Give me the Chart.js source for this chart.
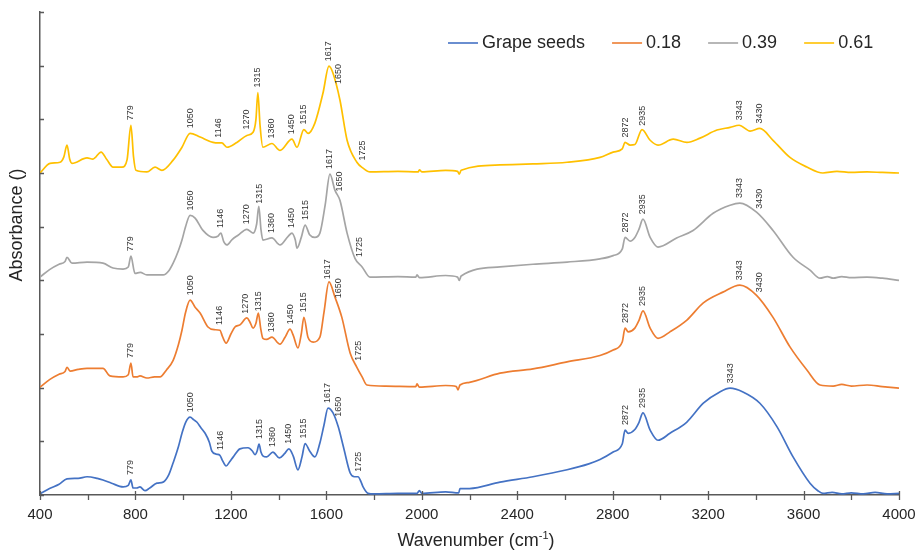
<!DOCTYPE html>
<html>
<head>
<meta charset="utf-8">
<title>FTIR spectra</title>
<script src="https://cdn.jsdelivr.net/npm/chart.js@4.4.1/dist/chart.umd.min.js"></script>
<style>
  html, body { margin: 0; padding: 0; background: #fff; }
  #wrap { width: 919px; height: 550px; position: relative; }
</style>
</head>
<body>
<div id="wrap"><canvas id="ftir"></canvas></div>
<script>
// series names
const seriesNames = ['Grape seeds', '0.18', '0.39', '0.61'];

// Grape seeds
const seedsX = [400, 440, 480, 513, 560, 597, 640, 664, 700, 748, 770, 781, 790, 805, 819, 840, 860, 890, 916, 940, 958, 980, 995, 1010, 1029, 1045, 1057, 1075, 1092, 1110, 1120, 1140, 1154, 1165, 1180, 1195, 1210, 1238, 1272, 1290, 1301, 1310, 1318, 1326, 1334, 1350, 1376, 1403, 1425, 1443, 1461, 1481, 1498, 1511, 1530, 1552, 1573, 1590, 1607, 1628, 1650, 1672, 1700, 1718, 1733, 1745, 1754, 1775, 1800, 1900, 1980, 1990, 2000, 2100, 2155, 2160, 2200, 2328, 2466, 2609, 2700, 2747, 2802, 2840, 2852, 2865, 2893, 2910, 2927, 2957, 2990, 3040, 3111, 3180, 3249, 3292, 3346, 3417, 3489, 3556, 3627, 3660, 3681, 3720, 3760, 3800, 3850, 3900, 3950, 4000];
const seedsY = [0.02, 0.12, 0.2, 0.30, 0.31, 0.34, 0.31, 0.28, 0.22, 0.15, 0.18, 0.28, 0.13, 0.13, 0.15, 0.08, 0.13, 0.22, 0.24, 0.38, 0.6, 0.9, 1.15, 1.35, 1.45, 1.40, 1.36, 1.25, 1.15, 0.98, 0.82, 0.76, 0.74, 0.64, 0.54, 0.62, 0.71, 0.86, 0.88, 0.82, 0.75, 0.82, 0.95, 0.80, 0.73, 0.71, 0.80, 0.69, 0.77, 0.86, 0.73, 0.47, 0.71, 0.96, 0.82, 0.71, 0.97, 1.3, 1.62, 1.53, 1.27, 0.89, 0.41, 0.34, 0.34, 0.25, 0.15, 0.03, 0.02, 0.03, 0.03, 0.08, 0.03, 0.06, 0.04, 0.12, 0.12, 0.24, 0.34, 0.47, 0.58, 0.66, 0.80, 0.95, 1.21, 1.15, 1.22, 1.35, 1.53, 1.21, 1.02, 1.15, 1.36, 1.71, 1.92, 1.99, 1.92, 1.71, 1.27, 0.71, 0.22, 0.08, 0.03, 0.05, 0.02, 0.04, 0.02, 0.05, 0.02, 0.03];

// 0.18
const s18X = [400, 440, 480, 505, 513, 526, 560, 597, 640, 664, 693, 748, 770, 781, 790, 805, 819, 848, 880, 903, 930, 958, 980, 995, 1010, 1029, 1050, 1071, 1104, 1130, 1154, 1165, 1180, 1200, 1217, 1238, 1267, 1280, 1293, 1305, 1315, 1325, 1334, 1350, 1372, 1406, 1427, 1448, 1461, 1481, 1495, 1506, 1523, 1545, 1573, 1590, 1611, 1636, 1665, 1700, 1728, 1750, 1770, 1850, 1975, 1980, 1990, 2100, 2145, 2152, 2160, 2200, 2328, 2466, 2609, 2747, 2802, 2840, 2852, 2865, 2893, 2910, 2927, 2957, 2990, 3040, 3111, 3180, 3262, 3333, 3403, 3472, 3543, 3614, 3669, 3724, 3760, 3800, 3866, 3930, 4000];
const s18Y = [2.01, 2.15, 2.25, 2.30, 2.38, 2.31, 2.34, 2.36, 2.36, 2.36, 2.22, 2.20, 2.24, 2.46, 2.20, 2.20, 2.22, 2.18, 2.20, 2.20, 2.33, 2.51, 2.8, 3.07, 3.40, 3.63, 3.50, 3.39, 3.13, 3.08, 3.07, 2.95, 2.83, 3.0, 3.13, 3.17, 3.30, 3.22, 3.11, 3.20, 3.39, 3.1, 2.92, 2.90, 2.94, 2.81, 2.94, 3.09, 2.98, 2.74, 3.0, 3.31, 2.94, 2.85, 2.94, 3.4, 3.97, 3.69, 3.31, 2.64, 2.38, 2.20, 2.05, 2.03, 2.02, 2.07, 2.01, 2.04, 2.02, 1.96, 2.05, 2.10, 2.27, 2.35, 2.48, 2.60, 2.70, 2.85, 3.11, 3.04, 3.11, 3.25, 3.43, 3.11, 2.92, 3.04, 3.26, 3.58, 3.78, 3.91, 3.72, 3.31, 2.76, 2.33, 2.05, 2.03, 2.06, 2.03, 2.05, 2.02, 1.99];

// 0.39
const s39X = [400, 440, 480, 505, 513, 534, 597, 664, 706, 748, 770, 781, 798, 820, 848, 916, 940, 958, 980, 995, 1010, 1029, 1050, 1083, 1125, 1145, 1158, 1170, 1183, 1205, 1230, 1267, 1293, 1308, 1317, 1326, 1334, 1372, 1406, 1440, 1456, 1470, 1477, 1495, 1511, 1530, 1552, 1573, 1595, 1615, 1636, 1657, 1687, 1720, 1750, 1783, 1900, 1975, 1980, 1990, 2100, 2150, 2157, 2165, 2328, 2466, 2609, 2747, 2802, 2840, 2852, 2873, 2893, 2910, 2927, 2957, 2990, 3068, 3137, 3221, 3292, 3333, 3403, 3472, 3556, 3627, 3669, 3700, 3724, 3760, 3800, 3866, 3930, 4000];
const s39Y = [4.06, 4.2, 4.3, 4.35, 4.43, 4.32, 4.34, 4.32, 4.23, 4.21, 4.25, 4.45, 4.13, 4.15, 4.10, 4.10, 4.18, 4.32, 4.55, 4.75, 5.0, 5.21, 5.16, 4.93, 4.80, 4.82, 4.88, 4.72, 4.66, 4.76, 4.84, 4.95, 4.88, 5.05, 5.38, 4.95, 4.75, 4.79, 4.66, 4.82, 4.88, 4.75, 4.60, 4.8, 5.03, 4.85, 4.80, 4.88, 5.4, 5.98, 5.68, 5.49, 4.88, 4.41, 4.25, 4.06, 4.07, 4.06, 4.1, 4.05, 4.09, 4.06, 4.0, 4.08, 4.25, 4.30, 4.34, 4.40, 4.46, 4.58, 4.80, 4.73, 4.80, 4.95, 5.14, 4.80, 4.62, 4.79, 4.93, 5.25, 5.40, 5.44, 5.27, 4.93, 4.43, 4.19, 4.04, 4.07, 4.04, 4.07, 4.05, 4.06, 4.04, 4.0];

// 0.61
const s61X = [400, 442, 484, 500, 513, 525, 534, 597, 622, 656, 680, 706, 744, 765, 781, 792, 802, 848, 882, 911, 958, 995, 1029, 1071, 1125, 1150, 1162, 1183, 1225, 1267, 1293, 1305, 1313, 1322, 1334, 1372, 1406, 1456, 1477, 1506, 1524, 1552, 1586, 1611, 1628, 1657, 1687, 1728, 1754, 1783, 1900, 1985, 1990, 2000, 2100, 2150, 2157, 2165, 2328, 2466, 2609, 2747, 2802, 2840, 2852, 2873, 2893, 2923, 2957, 2990, 3054, 3111, 3166, 3237, 3292, 3330, 3376, 3417, 3472, 3543, 3614, 3681, 3740, 3800, 3866, 3930, 4000];
const s61Y = [6.0, 6.18, 6.20, 6.3, 6.52, 6.25, 6.18, 6.28, 6.26, 6.39, 6.25, 6.11, 6.11, 6.25, 6.89, 6.3, 6.05, 6.02, 6.11, 6.05, 6.24, 6.48, 6.74, 6.67, 6.57, 6.56, 6.56, 6.48, 6.57, 6.70, 6.76, 7.0, 7.50, 6.9, 6.48, 6.55, 6.42, 6.63, 6.48, 6.81, 6.74, 6.93, 7.49, 7.99, 7.86, 7.36, 6.61, 6.20, 6.09, 6.02, 6.03, 6.02, 6.06, 6.02, 6.05, 6.03, 5.98, 6.05, 6.15, 6.17, 6.20, 6.29, 6.39, 6.45, 6.57, 6.52, 6.53, 6.81, 6.61, 6.52, 6.63, 6.57, 6.65, 6.80, 6.85, 6.89, 6.78, 6.83, 6.61, 6.29, 6.11, 6.0, 6.03, 6.01, 6.02, 6.01, 6.0];

// peak labels: text and where they sit along the wavenumber axis
const seedsPeaks = ['779', '1050', '1146', '1315', '1360', '1450', '1515', '1617', '1650', '1725', '2872', '2935', '3343'];
const seedsPeakAt = [781, 1029, 1158, 1318, 1376, 1443, 1503, 1607, 1650, 1733, 2852, 2927, 3292];
const s18Peaks = ['779', '1050', '1146', '1270', '1315', '1360', '1450', '1515', '1617', '1650', '1725', '2872', '2935', '3343', '3430'];
const s18PeakAt = [781, 1029, 1154, 1263, 1317, 1372, 1448, 1506, 1607, 1653, 1733, 2852, 2927, 3333, 3417];
const s39Peaks = ['779', '1050', '1146', '1270', '1315', '1360', '1450', '1515', '1617', '1650', '1725', '2872', '2935', '3343', '3430'];
const s39PeakAt = [781, 1029, 1158, 1267, 1318, 1372, 1456, 1511, 1615, 1657, 1741, 2852, 2927, 3333, 3417];
const s61Peaks = ['779', '1050', '1146', '1270', '1315', '1360', '1450', '1515', '1617', '1650', '1725', '2872', '2935', '3343', '3430'];
const s61PeakAt = [781, 1029, 1147, 1267, 1313, 1372, 1456, 1506, 1611, 1653, 1750, 2852, 2927, 3330, 3417];

// axis ticks
const xTicks = [400, 800, 1200, 1600, 2000, 2400, 2800, 3200, 3600, 4000];

const colors = ['#4472C4', '#ED7D31', '#A5A5A5', '#FFC000'];
const axisColor = '#595959';
const textColor = '#262626';
const FONT = 'Arial, "Liberation Sans", sans-serif';

function toPoints(xs, ys) {
    return xs.map((x, i) => ({ x: x, y: ys[i] }));
}

// linear lookup on a series, used to seat the peak labels on the curve
function valueAt(xs, ys, w) {
    if (w <= xs[0]) return ys[0];
    for (let i = 1; i < xs.length; i++) {
        if (w <= xs[i]) {
            const t = (w - xs[i - 1]) / (xs[i] - xs[i - 1]);
            return ys[i - 1] + t * (ys[i] - ys[i - 1]);
        }
    }
    return ys[ys.length - 1];
}

const allX = [seedsX, s18X, s39X, s61X];
const allY = [seedsY, s18Y, s39Y, s61Y];
const allPeaks = [seedsPeaks, s18Peaks, s39Peaks, s61Peaks];
const allPeakAt = [seedsPeakAt, s18PeakAt, s39PeakAt, s61PeakAt];

const decorations = {
    id: 'decorations',
    afterDraw(chart) {
        const ctx = chart.ctx;
        const xs = chart.scales.x, ys = chart.scales.y;
        const area = chart.chartArea;

        ctx.save();
        ctx.strokeStyle = axisColor;
        ctx.lineWidth = 1.3;
        // x tick marks: every 200, labelled ones cross the axis
        ctx.beginPath();
        for (let w = 400; w <= 4000; w += 200) {
            const px = Math.round(xs.getPixelForValue(w)) + 0.5;
            const major = xTicks.includes(w);
            ctx.moveTo(px, area.bottom - (major ? 4 : 0));
            ctx.lineTo(px, area.bottom + 5);
        }
        // y tick marks point into the plot
        for (let v = 0; v <= 9; v++) {
            const py = Math.round(ys.getPixelForValue(v)) + 0.5;
            ctx.moveTo(area.left, py);
            ctx.lineTo(area.left + 4, py);
        }
        ctx.stroke();

        // peak labels
        ctx.fillStyle = '#333';
        ctx.font = '9px ' + FONT;
        ctx.textAlign = 'left';
        ctx.textBaseline = 'middle';
        allPeaks.forEach((labels, s) => {
            labels.forEach((txt, k) => {
                const w = allPeakAt[s][k];
                const top = Math.max(
                    valueAt(allX[s], allY[s], w - 8),
                    valueAt(allX[s], allY[s], w),
                    valueAt(allX[s], allY[s], w + 8));
                const px = xs.getPixelForValue(w);
                const py = ys.getPixelForValue(top) - 5;
                ctx.save();
                ctx.translate(px, py);
                ctx.rotate(-Math.PI / 2);
                ctx.fillText(txt, 0, 0);
                ctx.restore();
            });
        });

        // legend
        ctx.font = '18px ' + FONT;
        ctx.textBaseline = 'middle';
        let lx = 448;
        const ly = 43;
        seriesNames.forEach((name, i) => {
            ctx.strokeStyle = colors[i];
            ctx.lineWidth = 1.6;
            ctx.beginPath();
            ctx.moveTo(lx, ly);
            ctx.lineTo(lx + 30, ly);
            ctx.stroke();
            ctx.fillStyle = textColor;
            ctx.fillText(name, lx + 34, ly);
            lx += 34 + ctx.measureText(name).width + 27;
        });

        // axis titles
        ctx.fillStyle = textColor;
        ctx.textBaseline = 'alphabetic';
        const main = 'Wavenumber (cm', sup = '-1', close = ')';
        ctx.font = '18px ' + FONT;
        const wMain = ctx.measureText(main).width;
        const wClose = ctx.measureText(close).width;
        ctx.font = '11px ' + FONT;
        const wSup = ctx.measureText(sup).width;
        let tx = 476 - (wMain + wSup + wClose) / 2;
        const ty = 546;
        ctx.font = '18px ' + FONT;
        ctx.textAlign = 'left';
        ctx.fillText(main, tx, ty);
        tx += wMain;
        ctx.font = '11px ' + FONT;
        ctx.fillText(sup, tx, ty - 7);
        tx += wSup;
        ctx.font = '18px ' + FONT;
        ctx.fillText(close, tx, ty);

        ctx.save();
        ctx.translate(22, 225);
        ctx.rotate(-Math.PI / 2);
        ctx.textAlign = 'center';
        ctx.fillText('Absorbance ()', 0, 0);
        ctx.restore();

        ctx.restore();
    }
};

const datasets = seriesNames.map((name, i) => ({
    label: name,
    data: toPoints(allX[i], allY[i]),
    borderColor: colors[i],
    backgroundColor: colors[i],
    borderWidth: 1.7,
    pointRadius: 0,
    cubicInterpolationMode: 'monotone',
    fill: false
}));

new Chart(document.getElementById('ftir'), {
    type: 'line',
    data: { datasets: datasets },
    options: {
        responsive: true,
        maintainAspectRatio: false,
        animation: false,
        layout: { padding: { left: 40, top: 12, right: 20, bottom: 0 } },
        plugins: {
            legend: { display: false },
            tooltip: { enabled: false }
        },
        scales: {
            x: {
                type: 'linear',
                min: 400,
                max: 4000,
                afterBuildTicks: (scale) => { scale.ticks = xTicks.map(v => ({ value: v })); },
                afterFit: (scale) => {
                    scale.height = 55;
                    scale.paddingLeft = 0;
                    scale.paddingRight = 0;
                },
                grid: { display: false, drawTicks: false },
                border: { display: true, color: axisColor, width: 1.5 },
                ticks: {
                    autoSkip: false,
                    maxRotation: 0,
                    padding: 11,
                    color: textColor,
                    font: { family: FONT, size: 15 },
                    callback: (v) => String(v)
                }
            },
            y: {
                type: 'linear',
                min: 0,
                max: 9,
                afterFit: (scale) => { scale.width = 0; },
                grid: { display: false, drawTicks: false },
                border: { display: true, color: axisColor, width: 1.5 },
                ticks: { display: false, stepSize: 1 }
            }
        }
    },
    plugins: [decorations]
});
</script>
</body>
</html>
